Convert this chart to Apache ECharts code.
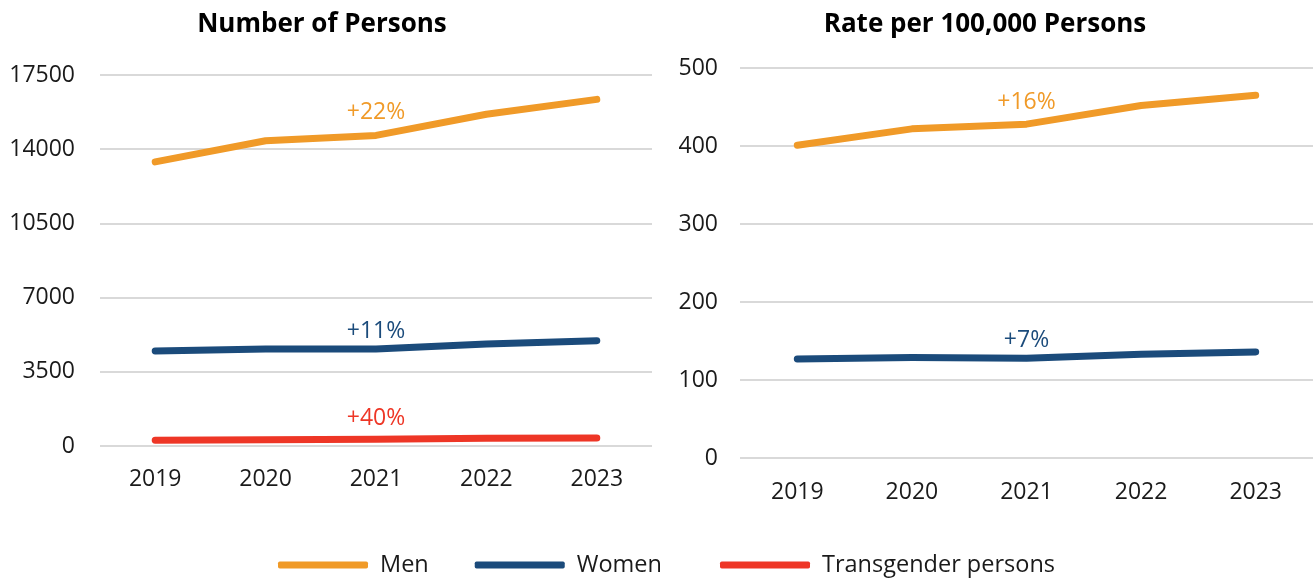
<!DOCTYPE html>
<html>
<head>
<meta charset="utf-8">
<script src="https://cdn.jsdelivr.net/npm/echarts@6/dist/echarts.min.js"></script>
<style>
  html, body { margin: 0; padding: 0; background: #fff; }
  #chart { width: 1313px; height: 580px; }
</style>
</head>
<body>
<div id="chart"></div>
<script>
// data
const years = ['2019', '2020', '2021', '2022', '2023'];
const menCount = [13400, 14400, 14650, 15650, 16350];
const womenCount = [4480, 4570, 4570, 4810, 4970];
const transCount = [270, 300, 320, 360, 378];
const menRate = [401, 422, 428, 452, 465];
const womenRate = [127, 129, 128, 133, 136];
const countChange = ['+22%', '+11%', '+40%'];
const rateChange = ['+16%', '+7%'];

const FONT = '"Open Sans", "Noto Sans", sans-serif';
const COLORS = { men: '#F09A28', women: '#1B4B7B', trans: '#EE3626' };
const LABEL_AT = 2; // change labels sit above 2021

const withLabel = (values, text, color, dist) =>
  values.map((v, i) => i !== LABEL_AT ? v : {
    value: v,
    label: {
      show: true, position: 'top', distance: dist, formatter: text,
      color, fontSize: 23, fontFamily: FONT,
    },
  });

const lineSeries = (name, color, values, xi, text, dist) => ({
  name,
  type: 'line',
  xAxisIndex: xi,
  yAxisIndex: xi,
  data: withLabel(values, text, color, dist),
  symbol: 'circle',
  symbolSize: 0,
  showSymbol: true,
  lineStyle: { width: 7, color, cap: 'round', join: 'round' },
  itemStyle: { color },
  emphasis: { disabled: true },
});

const axisLabel = { color: '#1a1a1a', fontSize: 23, fontFamily: FONT };

const legendBase = {
  bottom: 3,
  padding: 0,
  icon: 'roundRect',
  itemWidth: 90,
  itemHeight: 7,
  itemGap: 46,
  textStyle: { fontSize: 23.5, color: '#1a1a1a', fontFamily: FONT, padding: [0, 0, 0, 7] },
};

const chart = echarts.init(document.getElementById('chart'), null, { renderer: 'canvas' });
chart.setOption({
  animation: false,
  backgroundColor: '#fff',
  title: [
    { text: 'Number of Persons', left: 317, top: 7, textAlign: 'center',
      textStyle: { fontSize: 26, fontWeight: 'bold', color: '#000', fontFamily: FONT } },
    { text: 'Rate per 100,000 Persons', left: 980, top: 7, textAlign: 'center',
      textStyle: { fontSize: 26, fontWeight: 'bold', color: '#000', fontFamily: FONT } },
  ],
  legend: [
    { ...legendBase, left: 278, data: ['Men', 'Women'] },
    { ...legendBase, left: 720, data: ['Transgender persons'] },
  ],
  grid: [
    { left: 100, right: 661, top: 75, bottom: 134 },
    { left: 740, right: 0, top: 68, bottom: 122 },
  ],
  xAxis: [0, 1].map((i) => ({
    type: 'category',
    gridIndex: i,
    data: years,
    boundaryGap: true,
    axisLine: { show: false },
    axisTick: { show: false },
    axisLabel: { ...axisLabel, margin: i === 0 ? 22 : 23 },
  })),
  yAxis: [
    { type: 'value', gridIndex: 0, min: 0, max: 17500, interval: 3500,
      axisLine: { show: false }, axisTick: { show: false },
      axisLabel: { ...axisLabel, margin: 25, formatter: (v) => String(v) },
      splitLine: { lineStyle: { color: '#D9D9D9', width: 2 } } },
    { type: 'value', gridIndex: 1, min: 0, max: 500, interval: 100,
      axisLine: { show: false }, axisTick: { show: false },
      axisLabel: { ...axisLabel, margin: 22, formatter: (v) => String(v) },
      splitLine: { lineStyle: { color: '#D9D9D9', width: 2 } } },
  ],
  series: [
    lineSeries('Men', COLORS.men, menCount, 0, countChange[0], 11),
    lineSeries('Women', COLORS.women, womenCount, 0, countChange[1], 6),
    lineSeries('Transgender persons', COLORS.trans, transCount, 0, countChange[2], 9),
    lineSeries('Men', COLORS.men, menRate, 1, rateChange[0], 10),
    lineSeries('Women', COLORS.women, womenRate, 1, rateChange[1], 6),
  ],
});
</script>
</body>
</html>
